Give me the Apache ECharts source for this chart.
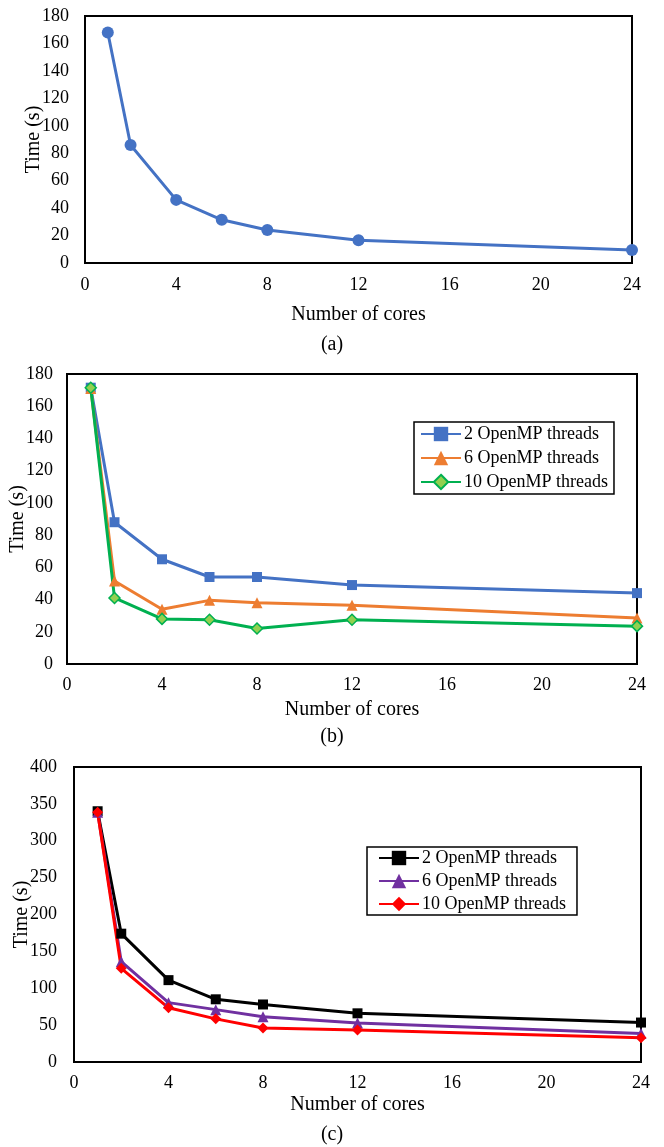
<!DOCTYPE html>
<html>
<head>
<meta charset="utf-8">
<title>Time vs number of cores</title>
<script src="https://cdn.jsdelivr.net/npm/echarts@6/dist/echarts.min.js"></script>
<style>
  html, body { margin: 0; padding: 0; background: #fff; }
  .chart { position: absolute; left: 0; width: 664px; }
</style>
</head>
<body>
<div id="chartA" class="chart" style="top:0;height:360px"></div>
<div id="chartB" class="chart" style="top:360px;height:390px"></div>
<div id="chartC" class="chart" style="top:745px;height:402px"></div>

<script>
// number of cores (x)
var cores = [1, 2, 4, 6, 8, 12, 24]

// (a) time in seconds
var timeA = [168, 86, 46, 31.5, 24, 16.5, 9.5]

// (b) time in seconds per OpenMP thread count
var timeB2 = [171.5, 88, 65, 54, 54, 49, 44]
var timeB6 = [171, 51.5, 34, 39.5, 38, 36.5, 28.5]
var timeB10 = [171.5, 41, 28, 27.5, 22, 27.5, 23.5]

// (c) time in seconds per OpenMP thread count
var timeC2 = [340, 174, 111, 85, 78, 66, 53.5]
var timeC6 = [338.5, 136, 80.5, 71, 61.5, 53, 38.5]
var timeC10 = [338.5, 127, 73.5, 58.5, 46, 43.5, 33]

var seriesNames = ['2 OpenMP threads', '6 OpenMP threads', '10 OpenMP threads']

var FONT = '"Liberation Serif", "Times New Roman", serif'

function pairs(ys) {
  return cores.map(function(c, i) { return [c, ys[i]] })
}

function lineSeries(name, ys, color, symbol, size, fill) {
  return {
    name: name,
    type: 'line',
    data: pairs(ys),
    symbol: symbol,
    symbolSize: size,
    lineStyle: { color: color, width: 3 },
    itemStyle: {
      color: fill || color,
      borderColor: color,
      borderWidth: fill ? 1.5 : 0
    },
    emphasis: { disabled: true },
    z: 3
  }
}

function baseOption(cfg) {
  return {
    animation: false,
    textStyle: { fontFamily: FONT, color: '#000' },
    title: {
      text: cfg.caption,
      left: 'center',
      top: cfg.captionTop,
      textStyle: { fontFamily: FONT, fontWeight: 'normal', fontSize: 20, color: '#000' }
    },
    grid: {
      left: cfg.grid[0],
      top: cfg.grid[1],
      right: cfg.grid[2],
      height: cfg.grid[3],
      show: true,
      borderColor: '#000',
      borderWidth: 2,
      backgroundColor: '#fff'
    },
    xAxis: {
      type: 'value',
      min: 0,
      max: 24,
      interval: 4,
      name: 'Number of cores',
      nameLocation: 'middle',
      nameGap: cfg.xNameGap,
      nameMoveOverlap: false,
      nameTextStyle: { fontFamily: FONT, fontSize: 20, color: '#000' },
      axisLine: { show: false },
      axisTick: { show: false },
      splitLine: { show: false },
      axisLabel: { fontFamily: FONT, fontSize: 18, color: '#000', margin: cfg.xLabelMargin }
    },
    yAxis: {
      type: 'value',
      min: 0,
      max: cfg.yMax,
      interval: cfg.yInterval,
      name: 'Time (s)',
      nameLocation: 'middle',
      nameGap: cfg.yNameGap,
      nameMoveOverlap: false,
      nameTextStyle: { fontFamily: FONT, fontSize: 20, color: '#000' },
      axisLine: { show: false },
      axisTick: { show: false },
      splitLine: { show: false },
      axisLabel: { fontFamily: FONT, fontSize: 18, color: '#000', margin: cfg.yLabelMargin }
    },
    series: []
  }
}

function legendOption(left, top, pad, gap) {
  return {
    orient: 'vertical',
    left: left,
    top: top,
    padding: pad,
    itemGap: gap,
    itemWidth: 40,
    itemHeight: 18,
    borderColor: '#000',
    borderWidth: 1.5,
    backgroundColor: '#fff',
    selectedMode: false,
    data: seriesNames,
    textStyle: { fontFamily: FONT, fontSize: 18, lineHeight: 18, color: '#000', padding: [0, 0, 0, -2] }
  }
}

// (a)
var chartA = echarts.init(document.getElementById('chartA'))
var optA = baseOption({
  caption: '(a)', captionTop: 330,
  grid: [85, 16, 32, 247],
  yMax: 180, yInterval: 20,
  xNameGap: 42, yNameGap: 41,
  xLabelMargin: 13, yLabelMargin: 16
})
optA.series = [lineSeries('Time', timeA, '#4472C4', 'circle', 12)]
chartA.setOption(optA)

// (b)
var chartB = echarts.init(document.getElementById('chartB'))
var optB = baseOption({
  caption: '(b)', captionTop: 362,
  grid: [67, 14, 27, 290],
  yMax: 180, yInterval: 20,
  xNameGap: 36, yNameGap: 39,
  xLabelMargin: 12, yLabelMargin: 14
})
optB.legend = legendOption(414, 62, [3, 6, 3, 6], 6)
optB.series = [
  lineSeries(seriesNames[0], timeB2, '#4472C4', 'rect', 10),
  lineSeries(seriesNames[1], timeB6, '#ED7D31', 'triangle', 11),
  lineSeries(seriesNames[2], timeB10, '#00B050', 'diamond', 11, '#92D050')
]
chartB.setOption(optB)

// (c)
var chartC = echarts.init(document.getElementById('chartC'))
var optC = baseOption({
  caption: '(c)', captionTop: 375,
  grid: [74, 22, 23, 295],
  yMax: 400, yInterval: 50,
  xNameGap: 33, yNameGap: 42,
  xLabelMargin: 12, yLabelMargin: 17
})
optC.legend = legendOption(367, 102, [2, 11, 2, 11], 5)
optC.series = [
  lineSeries(seriesNames[0], timeC2, '#000000', 'rect', 10),
  lineSeries(seriesNames[1], timeC6, '#7030A0', 'triangle', 11),
  lineSeries(seriesNames[2], timeC10, '#FF0000', 'diamond', 11)
]
chartC.setOption(optC)
</script>
</body>
</html>
